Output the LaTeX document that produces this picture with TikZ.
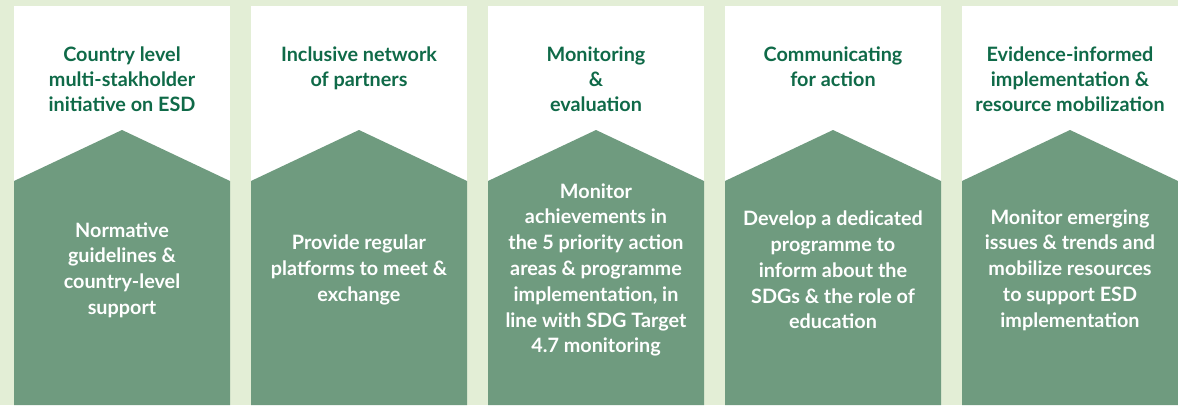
\documentclass[tikz,border=0pt]{standalone}
\usepackage{fontspec}
\setmainfont{Lato}
\usetikzlibrary{positioning}
\definecolor{bgreen}{HTML}{E3EED6}
\definecolor{leafgreen}{HTML}{6F9B7F}
\definecolor{headgreen}{HTML}{0F6A48}
\tikzset{
panel/.style={
  minimum width=216pt,
  minimum height=399pt,
  inner sep=0pt,
  outer sep=0pt,
  fill=white,
  draw=none,
},
leaf/.style={fill=leafgreen},
head/.style={
  anchor=north,
  inner sep=0pt,
  align=center,
  text=headgreen,
  font=\fontsize{19.8}{25}\selectfont\bfseries,
},
body/.style={
  anchor=center,
  inner sep=0pt,
  align=center,
  text=white,
  font=\fontsize{19.8}{25.8}\selectfont\bfseries,
},
}

\begin{document}
\begin{tikzpicture}[x=1pt,y=1pt]
\fill[bgreen] (0,0) rectangle (1178,-405);
\useasboundingbox (0,0) rectangle (1178,-405);

\node[panel] (p0) at (122,-205.5) {};
\node[panel,right=21pt of p0] (p1) {};
\node[panel,right=21pt of p1] (p2) {};
\node[panel,right=21pt of p2] (p3) {};
\node[panel,right=21pt of p3] (p4) {};

\fill[leaf] (p0.south west) -- ([yshift=-175pt]p0.north west) -- ([yshift=-124pt]p0.north) -- ([yshift=-175pt]p0.north east) -- (p0.south east) -- cycle;
\fill[leaf] (p1.south west) -- ([yshift=-175pt]p1.north west) -- ([yshift=-124pt]p1.north) -- ([yshift=-175pt]p1.north east) -- (p1.south east) -- cycle;
\fill[leaf] (p2.south west) -- ([yshift=-175pt]p2.north west) -- ([yshift=-124pt]p2.north) -- ([yshift=-175pt]p2.north east) -- (p2.south east) -- cycle;
\fill[leaf] (p3.south west) -- ([yshift=-175pt]p3.north west) -- ([yshift=-124pt]p3.north) -- ([yshift=-175pt]p3.north east) -- (p3.south east) -- cycle;
\fill[leaf] (p4.south west) -- ([yshift=-175pt]p4.north west) -- ([yshift=-124pt]p4.north) -- ([yshift=-175pt]p4.north east) -- (p4.south east) -- cycle;

\node[head] (t0) at ([yshift=-41pt]p0.north) {Country level\\multi-stakholder\\initiative on ESD};
\node[head] (t1) at ([yshift=-41pt]p1.north) {Inclusive network\\of partners};
\node[head] (t2) at ([yshift=-41pt]p2.north) {Monitoring\\\&\\evaluation};
\node[head] (t3) at ([yshift=-41pt]p3.north) {Communicating\\for action};
\node[head] (t4) at ([yshift=-41pt]p4.north) {Evidence-informed\\implementation \&\\resource mobilization};

\node[body] (b0) at ([yshift=135pt]p0.south) {Normative\\guidelines \&\\country-level\\support};
\node[body] (b1) at ([yshift=135pt]p1.south) {Provide regular\\platforms to meet \&\\exchange};
\node[body] (b2) at ([yshift=135pt]p2.south) {Monitor\\achievements in\\the 5 priority action\\areas \& programme\\implementation, in\\line with SDG Target\\4.7 monitoring};
\node[body] (b3) at ([yshift=135pt]p3.south) {Develop a dedicated\\programme to\\inform about the\\SDGs \& the role of\\education};
\node[body] (b4) at ([yshift=135pt]p4.south) {Monitor emerging\\issues \& trends and\\mobilize resources\\to support ESD\\implementation};
\end{tikzpicture}
\end{document}
